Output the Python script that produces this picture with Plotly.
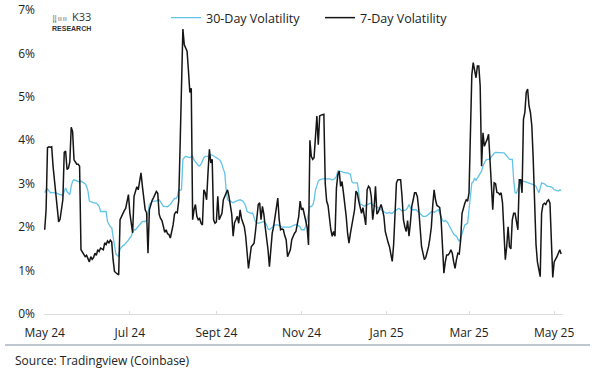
import pandas as pd
import plotly.graph_objects as go

start_date = "2024-05-01"

vol_7d = [
    1.94, 2.4, 3.83, 3.85, 3.84, 3.85, 3.4, 3.1, 2.86, 2.47,
    2.12, 2.18, 2.4, 2.63, 3.72, 3.75, 3.33, 3.36, 3.5, 4.3,
    4.2, 3.55, 3.5, 3.45, 3.45, 3.4, 1.48, 1.42, 1.38, 1.32,
    1.35, 1.28, 1.2, 1.32, 1.26, 1.3, 1.4, 1.35, 1.48, 1.44,
    1.52, 1.5, 1.48, 1.64, 1.6, 1.68, 1.64, 1.7, 1.66, 1.25,
    0.98, 0.95, 0.92, 0.9, 2.17, 2.25, 2.32, 2.38, 2.43, 2.6,
    2.75, 2.33, 2.1, 1.87, 2.71, 2.8, 2.93, 2.86, 3.09, 3.25,
    2.94, 2.6, 2.4, 2.33, 1.4, 2.4, 2.55, 2.62, 2.68, 2.75,
    2.82, 2.78, 2.3, 2.2, 2.15, 2.02, 1.88, 1.94, 1.85, 1.83,
    1.75, 1.9, 2.05, 2.3, 2.35, 2.33, 2.6, 3.86, 5.3, 6.56,
    6.2, 6.1, 6.05, 5.6, 5.1, 5.2, 2.17, 2.4, 2.52, 2.25,
    2.17, 2.2, 2.09, 2.05, 2.86, 2.79, 2.63, 3.25, 3.79, 3.48,
    3.56, 2.17, 2.09, 2.12, 2.71, 2.17, 2.25, 2.32, 2.63, 2.71,
    2.79, 2.86, 2.71, 2.48, 2.3, 1.79, 2.1, 2.17, 2.25, 2.09,
    2.4, 2.2, 2.1, 2.01, 1.79, 1.4, 1.05, 1.3, 1.55, 1.59,
    1.63, 1.9, 2.17, 2.52, 2.56, 2.17, 2.48, 2.3, 2.0, 1.79,
    1.48, 1.09, 1.48, 1.86, 2.01, 2.25, 2.5, 2.67, 2.17, 1.94,
    1.96, 1.94, 1.8, 1.71, 1.32, 1.4, 1.48, 1.71, 1.79, 1.86,
    1.9, 2.1, 2.25, 2.6, 2.4, 2.44, 2.3, 2.1, 2.0, 1.59,
    4.0, 3.63, 3.56, 3.6, 4.25, 4.56, 3.9, 4.56, 4.58, 4.6,
    4.6, 3.0, 2.6, 2.5, 2.2, 1.94, 1.79, 1.9, 1.79, 2.9,
    3.2, 3.29, 2.94, 3.05, 2.8, 2.56, 2.25, 1.86, 1.63, 1.85,
    2.01, 2.17, 2.4, 2.83, 2.78, 2.6, 2.45, 2.32, 2.45, 2.2,
    2.05, 2.86, 2.94, 2.9, 2.7, 2.17, 2.45, 2.94, 2.3, 2.35,
    2.45, 2.52, 2.4, 2.25, 1.9, 1.75, 1.65, 1.55, 1.4, 1.21,
    1.6, 2.17, 3.02, 3.09, 3.09, 3.09, 2.71, 2.17, 2.01, 1.9,
    2.15, 1.79, 2.1, 2.48, 2.63, 2.79, 2.79, 2.7, 2.4, 1.86,
    1.55, 1.4, 1.25, 1.3, 1.4, 1.55, 1.75, 2.0, 2.5, 2.86,
    2.63, 2.5, 2.48, 2.45, 2.17, 1.55, 0.94, 1.2, 1.36, 1.36,
    1.4, 1.48, 1.4, 1.2, 1.05, 1.25, 1.4, 1.38, 1.7, 2.32,
    2.45, 2.55, 2.63, 2.6, 2.79, 4.2, 5.5, 5.79, 5.6, 5.44,
    5.71, 5.71, 5.25, 3.4, 4.17, 3.86, 3.95, 4.02, 4.14, 3.56,
    3.09, 2.4, 3.02, 3.0, 2.8, 2.79, 2.75, 2.79, 2.56, 2.01,
    1.25, 1.55, 2.01, 1.55, 1.5, 2.17, 2.32, 2.32, 2.17, 1.94,
    3.09, 3.09, 2.79, 4.48, 4.64, 5.1, 5.18, 4.79, 4.64, 4.33,
    3.56, 2.48, 1.6, 1.2, 1.0, 0.86, 2.32, 2.52, 2.55, 2.52,
    2.6, 2.63, 2.55, 1.4, 0.84, 1.2, 1.25, 1.32, 1.4, 1.48,
    1.38,
]

vol_30d = [
    2.79, 2.86, 2.88, 2.82, 2.79, 2.8, 2.79, 2.79, 2.79, 2.77,
    2.75, 2.75, 2.75, 2.71, 2.83, 2.9, 2.82, 2.77, 2.75, 2.94,
    3.06, 3.09, 3.08, 3.07, 3.06, 3.04, 3.06, 3.04, 3.02, 3.0,
    2.94, 2.83, 2.6, 2.58, 2.56, 2.56, 2.56, 2.55, 2.52, 2.48,
    2.36, 2.36, 2.36, 2.36, 2.36, 2.13, 2.05, 2.01, 1.99, 1.8,
    1.55, 1.38, 1.35, 1.32, 1.5, 1.55, 1.57, 1.59, 1.62, 1.65,
    1.7, 1.75, 1.79, 1.88, 1.94, 1.94, 1.98, 2.02, 2.05, 2.1,
    2.13, 2.13, 2.13, 2.15, 2.3, 2.52, 2.56, 2.6, 2.6, 2.6,
    2.6, 2.62, 2.63, 2.58, 2.52, 2.48, 2.48, 2.48, 2.47, 2.5,
    2.52, 2.57, 2.63, 2.66, 2.66, 2.7, 2.86, 2.85, 2.86, 3.56,
    3.6, 3.63, 3.62, 3.6, 3.6, 3.62, 3.63, 3.55, 3.5, 3.46,
    3.42, 3.41, 3.45, 3.52, 3.6, 3.63, 3.63, 3.63, 3.65, 3.67,
    3.66, 3.64, 3.63, 3.62, 3.6, 3.56, 3.52, 3.45, 3.33, 3.25,
    2.86, 2.63, 2.6, 2.6, 2.58, 2.56, 2.58, 2.6, 2.6, 2.62,
    2.63, 2.62, 2.6, 2.55, 2.48, 2.36, 2.34, 2.32, 2.32, 2.32,
    2.2, 2.13, 2.1, 2.09, 2.1, 2.12, 2.12, 2.12, 2.1, 2.05,
    1.96, 1.94, 1.96, 2.0, 2.04, 2.05, 2.05, 2.05, 2.03, 2.01,
    2.0, 2.0, 2.0, 2.01, 2.01, 2.0, 2.0, 2.02, 2.04, 2.05,
    2.05, 2.05, 2.03, 2.0, 1.94, 1.94, 1.94, 2.02, 2.2, 2.35,
    2.48, 2.48, 2.5, 2.62, 2.86, 2.95, 3.06, 3.09, 3.11, 3.11,
    3.11, 3.11, 3.12, 3.12, 3.11, 3.1, 3.09, 3.1, 3.12, 3.17,
    3.29, 3.29, 3.29, 3.28, 3.26, 3.25, 3.25, 3.25, 3.24, 3.22,
    3.05, 3.02, 3.02, 3.02, 3.02, 2.8, 2.52, 2.52, 2.5, 2.48,
    2.5, 2.52, 2.54, 2.55, 2.56, 2.5, 2.48, 2.48, 2.47, 2.45,
    2.44, 2.4, 2.37, 2.35, 2.33, 2.32, 2.33, 2.34, 2.32, 2.32,
    2.35, 2.38, 2.4, 2.42, 2.43, 2.4, 2.37, 2.38, 2.4, 2.4,
    2.45, 2.52, 2.45, 2.4, 2.4, 2.4, 2.4, 2.37, 2.34, 2.3,
    2.27, 2.25, 2.25, 2.25, 2.27, 2.3, 2.32, 2.35, 2.36, 2.34,
    2.36, 2.38, 2.4, 2.33, 2.25, 2.15, 2.13, 2.15, 2.13, 2.09,
    2.02, 1.95, 1.88, 1.84, 1.81, 1.79, 1.73, 1.67, 1.75, 1.86,
    1.95, 2.05, 2.07, 2.09, 2.4, 2.8, 3.02, 3.04, 3.13, 3.08,
    3.13, 3.2, 3.25, 3.29, 3.41, 3.48, 3.54, 3.56, 3.56, 3.56,
    3.62, 3.67, 3.7, 3.72, 3.72, 3.72, 3.72, 3.72, 3.72, 3.71,
    3.68, 3.64, 3.6, 3.56, 3.56, 3.56, 3.09, 2.79, 2.78, 2.9,
    2.98, 3.02, 3.05, 3.06, 3.05, 3.04, 3.03, 3.02, 3.0, 2.99,
    2.98, 2.96, 2.94, 2.86, 2.79, 2.9, 3.02, 3.01, 3.0, 2.97,
    2.94, 2.94, 2.94, 2.93, 2.9, 2.86, 2.85, 2.84, 2.83, 2.86,
    2.84,
]

tick_dates = ["2024-05-01", "2024-07-01", "2024-09-01", "2024-11-01",
              "2025-01-01", "2025-03-01", "2025-05-01"]
tick_labels = ["May 24", "Jul 24", "Sept 24", "Nov 24", "Jan 25", "Mar 25", "May 25"]
y_ticks = [0, 1, 2, 3, 4, 5, 6, 7]

dates_7d = pd.date_range(start_date, periods=len(vol_7d), freq="D")
dates_30d = pd.date_range(start_date, periods=len(vol_30d), freq="D")

FONT = "Open Sans"
W, H = 607, 372
ML, MR, MT, MB = 44, 44, 10, 58
PW, PH = W - ML - MR, H - MT - MB

def px(x):
    return (x - ML) / PW

def py(y):
    return (H - MB - y) / PH

fig = go.Figure()
fig.add_trace(go.Scatter(x=dates_30d, y=vol_30d, mode="lines", name="30-Day Volatility",
                         line=dict(color="#62c3e8", width=1.3)))
fig.add_trace(go.Scatter(x=dates_7d, y=vol_7d, mode="lines", name="7-Day Volatility",
                         line=dict(color="#151515", width=1.5)))

fig.update_layout(
    width=W, height=H,
    margin=dict(l=ML, r=MR, t=MT, b=MB, autoexpand=False),
    paper_bgcolor="white", plot_bgcolor="white",
    font=dict(family=FONT, size=12, color="#222222"),
    showlegend=True,
    legend=dict(orientation="h", x=px(166), y=py(18), xanchor="left", yanchor="middle",
                font=dict(size=12.5, color="#222222"), bgcolor="rgba(0,0,0,0)",
                itemwidth=30, tracegroupgap=0,
                entrywidth=109, entrywidthmode="pixels"),
    xaxis=dict(
        type="date",
        range=["2024-04-30 12:00", "2025-05-07 08:00"],
        tickvals=tick_dates, ticktext=tick_labels,
        showgrid=False, zeroline=False,
        showline=True, linecolor="#dcdcdc", linewidth=1,
        ticks="inside", ticklen=3, tickcolor="#dcdcdc",
        ticklabelstandoff=8,
        tickfont=dict(size=12, color="#222222"),
    ),
    yaxis=dict(
        range=[0, 7], tickvals=y_ticks, ticktext=[f"{v}%" for v in y_ticks],
        showgrid=False, zeroline=False, showline=False, ticks="",
        ticklabelstandoff=8,
        tickfont=dict(size=12, color="#222222"),
    ),
)

# separator line and source
fig.add_shape(type="line", xref="paper", yref="paper",
              x0=px(5), x1=px(590), y0=py(345), y1=py(345),
              line=dict(color="#a9b3bf", width=1.5))
fig.add_annotation(xref="paper", yref="paper", x=px(13), y=py(360),
                   xanchor="left", yanchor="middle", showarrow=False,
                   text="Source: Tradingview (Coinbase)",
                   font=dict(family=FONT, size=12, color="#222222"))

# logo
fig.add_annotation(xref="paper", yref="paper", x=px(50), y=py(18.5),
                   xanchor="left", yanchor="middle", showarrow=False,
                   text="⣿⠶⠶", font=dict(family="DejaVu Sans", size=7, color="#333333"))
fig.add_annotation(xref="paper", yref="paper", x=px(70), y=py(17),
                   xanchor="left", yanchor="middle", showarrow=False,
                   text="K33", font=dict(family=FONT, size=11, color="#333333"))
fig.add_annotation(xref="paper", yref="paper", x=px(50), y=py(28.5),
                   xanchor="left", yanchor="middle", showarrow=False,
                   text="<b>RESEARCH</b>", font=dict(family="Liberation Sans", size=7, color="#333333"))

fig.write_html("out.html", config={"displayModeBar": False},
               post_script="document.body.style.margin='0';")
